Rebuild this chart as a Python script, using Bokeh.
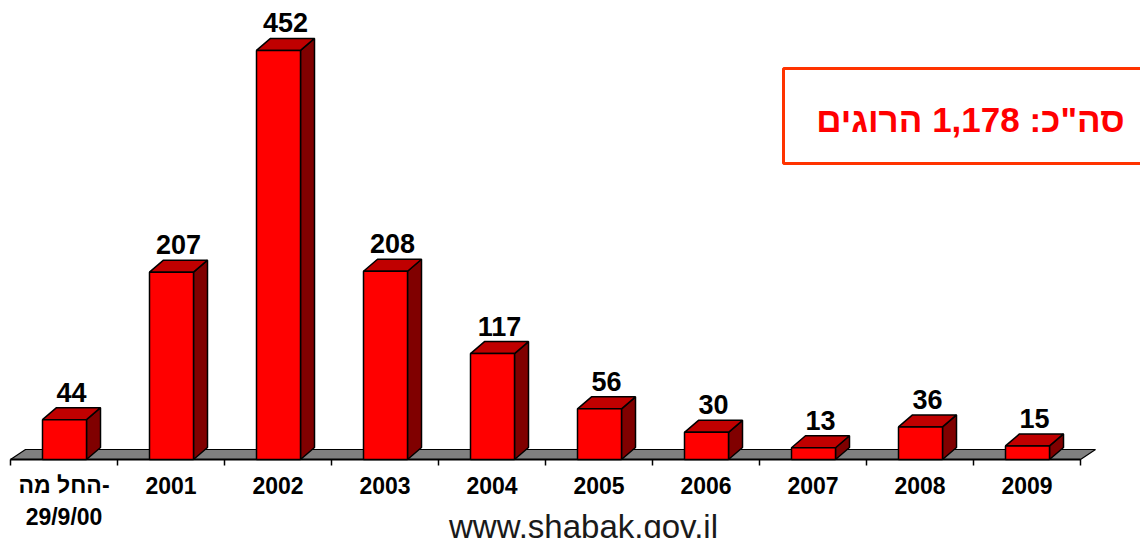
from bokeh.plotting import figure
from bokeh.models import Range1d
from bokeh.core.properties import value
from bokeh.embed import file_html
from bokeh.resources import INLINE

# ---- data ----
categories = ["החל מה-\n29/9/00", "2001", "2002", "2003", "2004", "2005", "2006", "2007", "2008", "2009"]
killed = [44, 207, 452, 208, 117, 56, 30, 13, 36, 15]
total_label = "סה\"כ: {:,} הרוגים".format(sum(killed))
source_url = "www.shabak.gov.il"

# ---- geometry helpers (pixel layout of the reference -> data units) ----
K = 0.905          # px per unit value
CW = 107.0         # px per category
def xpx(px):
    return (px - 10) / CW
def ypx(py):
    return (459 - py) / K

BAR_OFF = 32 / CW
BAR_W = 44 / CW
DX = 14 / CW
DY = 12 / K
FDX = 15 / CW
FDY = 10 / K
BASE_FIX = 0.35    # baseline correction, in em

FONT = value("Liberation Sans")

p = figure(width=1140, height=538, output_backend="svg", toolbar_location=None,
           x_range=Range1d(xpx(0), xpx(1140)), y_range=Range1d(ypx(538), ypx(0)),
           x_axis_location=None, y_axis_location=None, min_border=0)
p.grid.visible = False
p.outline_line_color = None
p.background_fill_color = "white"

n = len(killed)

# floor
p.patch([0, n, n + FDX, FDX], [0, 0, FDY, FDY], fill_color="#808080",
        line_color="black", line_width=1.2)
# axis front line + ticks at category boundaries
p.segment(x0=[0], y0=[0], x1=[n], y1=[0], line_color="black", line_width=2)
p.segment(x0=list(range(n + 1)), y0=[0] * (n + 1), x1=list(range(n + 1)),
          y1=[-6 / K] * (n + 1), line_color="black", line_width=1.5)

# bars
lefts = [i + BAR_OFF for i in range(n)]
rights = [l + BAR_W for l in lefts]
tops_xs = [[l, r, r + DX, l + DX] for l, r in zip(lefts, rights)]
tops_ys = [[v, v, v + DY, v + DY] for v in killed]
side_xs = [[r, r, r + DX, r + DX] for r in rights]
side_ys = [[0, v, v + DY, DY] for v in killed]

p.patches(side_xs, side_ys, fill_color="#800000", line_color="black", line_width=1.5)
p.patches(tops_xs, tops_ys, fill_color="#C00000", line_color="black", line_width=1.5)
p.quad(left=lefts, right=rights, bottom=[0] * n, top=killed, fill_color="#FF0000",
       line_color="black", line_width=1.5)

# value labels
VFS = 27
p.text(x=[l + BAR_W / 2 + DX / 2 for l in lefts],
       y=[v + (18 + BASE_FIX * VFS) / K for v in killed],
       text=[str(v) for v in killed], text_font=FONT, text_font_style="bold",
       text_font_size=f"{VFS}px", text_align="center", text_baseline="alphabetic",
       text_color="black")

# category labels
CFS = 23
line1 = [c.split("\n")[0] for c in categories]
line2 = [c.split("\n")[1] if "\n" in c else "" for c in categories]
cx = [i + 0.5 for i in range(n)]
p.text(x=cx, y=[ypx(493 - BASE_FIX * CFS)] * n, text=line1, text_font=FONT,
       text_font_style="bold", text_font_size=f"{CFS}px", text_align="center",
       text_baseline="alphabetic", text_color="black")
p.text(x=cx, y=[ypx(525 - BASE_FIX * CFS)] * n, text=line2, text_font=FONT,
       text_font_style="bold", text_font_size=f"{CFS}px", text_align="center",
       text_baseline="alphabetic", text_color="black")

# total box
TFS = 35
p.quad(left=[xpx(783)], right=[xpx(1160)], top=[ypx(68)], bottom=[ypx(163)],
       fill_color="white", line_color="#FF3300", line_width=3)
p.text(x=[xpx(970)], y=[ypx(131 - BASE_FIX * TFS)], text=[total_label], text_font=FONT,
       text_font_style="bold", text_font_size=f"{TFS}px", text_align="center",
       text_baseline="alphabetic", text_color="#FF0000")

# source
UFS = 33
p.text(x=[xpx(583)], y=[ypx(538 - BASE_FIX * UFS)], text=[source_url], text_font=FONT,
       text_font_size=f"{UFS}px", text_align="center", text_baseline="alphabetic",
       text_color="#1a1a1a")

open("out.html", "w").write(file_html(p, INLINE))
